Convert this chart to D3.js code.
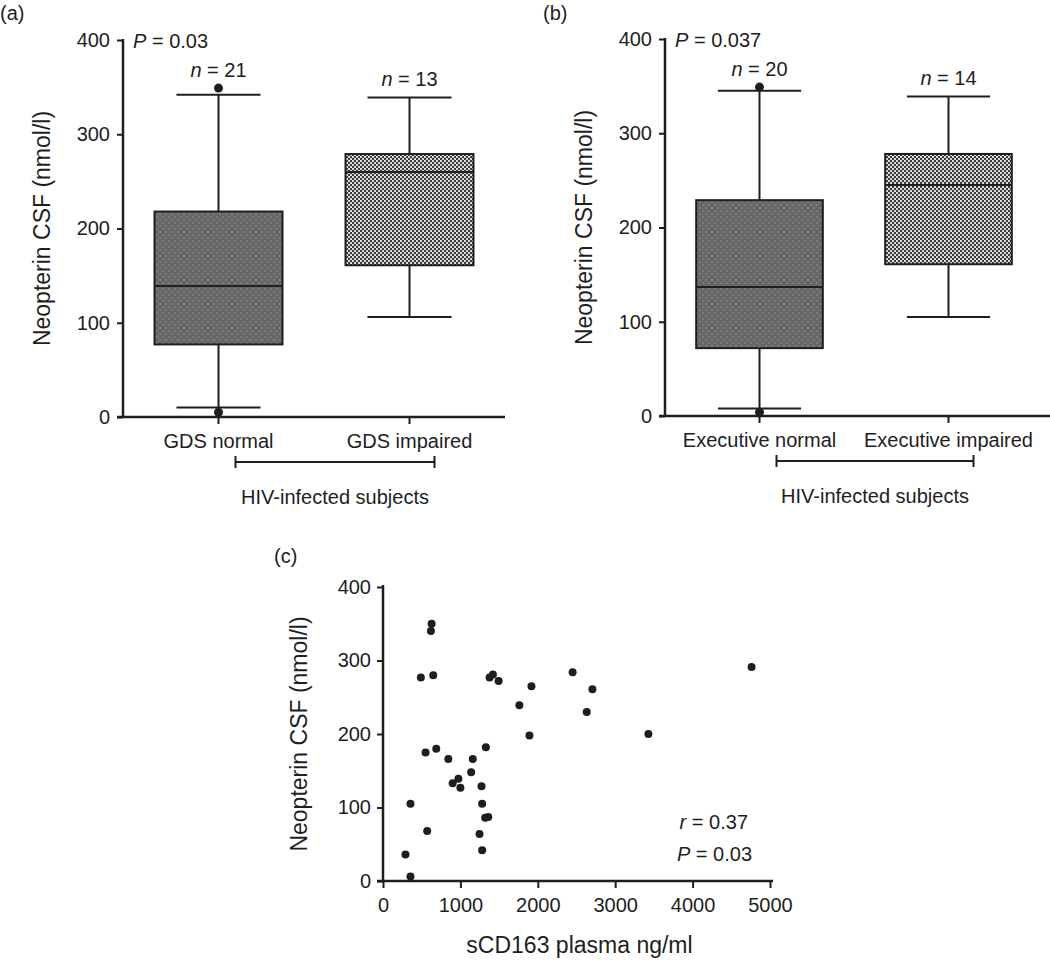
<!DOCTYPE html>
<html>
<head>
<meta charset="utf-8">
<script src="https://cdn.jsdelivr.net/npm/d3@7"></script>
<style>
  body { margin: 0; background: #fff; }
  svg { font-family: "Liberation Sans", Arial, sans-serif; }
</style>
</head>
<body>
<svg id="fig" width="1050" height="964"></svg>
<script>
// panel (a)
const groupsA = ["GDS normal", "GDS impaired"]
const statsA = [[10, 77, 139, 218, 342], [106, 161, 260, 279, 339]]   // lo, q1, med, q3, hi
const outliersA = [[349, 5], []]
const countsA = [21, 13]
const pA = "0.03"

// panel (b)
const groupsB = ["Executive normal", "Executive impaired"]
const statsB = [[8, 72, 137, 229, 345], [105, 161, 245, 278, 339]]
const outliersB = [[349, 4], []]
const countsB = [20, 14]
const pB = "0.037"

// panel (c) scatter: sCD163 plasma vs neopterin CSF
const sCD163 = [628, 619, 489, 649, 1377, 1420, 1494, 1918, 1762, 2450, 2706, 2632, 1892, 3429, 4762,
  550, 688, 1329, 844, 1160, 1139, 900, 974, 1000, 1273, 1281, 1320, 1360, 1247, 1281, 355, 571, 290, 355]
const neopterin = [350, 340, 277, 280, 277, 281, 272, 265, 239, 284, 261, 230, 198, 200, 291,
  175, 180, 182, 166, 166, 148, 133, 139, 127, 129, 105, 86, 87, 64, 42, 105, 68, 36, 6]
const rC = "0.37", pC = "0.03"

const yTicks = [0, 100, 200, 300, 400]
const xTicksC = [0, 1000, 2000, 3000, 4000, 5000]

const svg = d3.select("#fig")
const ink = "#1e1e1e"

// fill patterns for the boxes
const defs = svg.append("defs")
let p1 = defs.append("pattern").attr("id", "darkfill").attr("width", 6).attr("height", 6).attr("patternUnits", "userSpaceOnUse")
p1.append("rect").attr("width", 6).attr("height", 6).attr("fill", "#676767")
p1.append("rect").attr("x", 0).attr("y", 0).attr("width", 2).attr("height", 2).attr("fill", "#7a7a7a")
p1.append("rect").attr("x", 3).attr("y", 3).attr("width", 2).attr("height", 2).attr("fill", "#7a7a7a")

let p2 = defs.append("pattern").attr("id", "checkfill").attr("width", 4).attr("height", 4).attr("patternUnits", "userSpaceOnUse")
p2.append("rect").attr("width", 4).attr("height", 4).attr("fill", "#3a3a3a")
p2.append("circle").attr("cx", 1).attr("cy", 1).attr("r", 1.05).attr("fill", "#f4f4f4")
p2.append("circle").attr("cx", 3).attr("cy", 3).attr("r", 1.05).attr("fill", "#f4f4f4")

const fills = ["url(#darkfill)", "url(#checkfill)"]

function label(g, x, y, italic, rest, anchor) {
  let t = g.append("text").attr("x", x).attr("y", y).attr("font-size", 20).attr("fill", ink)
    .attr("text-anchor", anchor || "start")
  t.append("tspan").attr("font-style", "italic").text(italic)
  t.append("tspan").text(rest)
  return t
}

function style_axis(a) {
  a.select(".domain").remove()
  a.selectAll(".tick line").attr("stroke", ink).attr("stroke-width", 2)
  a.selectAll(".tick text").attr("font-size", 20).attr("fill", ink)
    .attr("font-family", "Liberation Sans, Arial, sans-serif")
}

function draw_box_panel(cfg) {
  let g = svg.append("g")
  let y = d3.scaleLinear().domain([0, 400]).range([cfg.bottom, cfg.top])
  let x = d3.scaleBand().domain(cfg.groups).range([cfg.left, cfg.left + cfg.bandW * 2])

  // y axis
  let ya = g.append("g").attr("transform", `translate(${cfg.left},0)`)
    .call(d3.axisLeft(y).tickValues(yTicks).tickSize(6).tickSizeOuter(0).tickPadding(7))
  style_axis(ya)
  g.append("line").attr("x1", cfg.left).attr("x2", cfg.left).attr("y1", cfg.top - 1).attr("y2", cfg.bottom + 1)
    .attr("stroke", ink).attr("stroke-width", 2.5)

  // x axis
  let xa = g.append("g").attr("transform", `translate(0,${cfg.bottom})`)
    .call(d3.axisBottom(x).tickSize(7).tickSizeOuter(0).tickPadding(10))
  style_axis(xa)
  g.append("line").attr("x1", cfg.left - 6).attr("x2", cfg.right).attr("y1", cfg.bottom).attr("y2", cfg.bottom)
    .attr("stroke", ink).attr("stroke-width", 2.5)

  let boxW = x.bandwidth() * 0.67
  let capW = x.bandwidth() * 0.22
  cfg.groups.forEach((grp, i) => {
    let [lo, q1, med, q3, hi] = cfg.stats[i]
    let cx = x(grp) + x.bandwidth() / 2
    let w = g.append("g").attr("stroke", ink).attr("stroke-width", 2)
    w.append("line").attr("x1", cx).attr("x2", cx).attr("y1", y(hi)).attr("y2", y(lo))
    w.append("line").attr("x1", cx - capW).attr("x2", cx + capW).attr("y1", y(hi)).attr("y2", y(hi))
    w.append("line").attr("x1", cx - capW).attr("x2", cx + capW).attr("y1", y(lo)).attr("y2", y(lo))
    w.append("rect").attr("x", cx - boxW / 2).attr("width", boxW)
      .attr("y", y(q3)).attr("height", y(q1) - y(q3)).attr("fill", fills[i])
    w.append("line").attr("x1", cx - boxW / 2).attr("x2", cx + boxW / 2).attr("y1", y(med)).attr("y2", y(med))
    cfg.outliers[i].forEach(v => {
      g.append("circle").attr("cx", cx).attr("cy", y(v)).attr("r", 4.5).attr("fill", ink)
    })
    let top = d3.max([hi].concat(cfg.outliers[i]))
    label(g, cx, y(top) - 11, "n", ` = ${cfg.counts[i]}`, "middle")
  })

  label(g, cfg.left + 10, cfg.top + 8, "P", ` = ${cfg.p}`)

  // group bracket
  let bx1 = x(cfg.groups[0]) + x.bandwidth() / 2 + 17
  let bx2 = x(cfg.groups[1]) + x.bandwidth() / 2 + 25
  let by = cfg.bottom + 45
  let br = g.append("g").attr("stroke", ink).attr("stroke-width", 2)
  br.append("line").attr("x1", bx1).attr("x2", bx2).attr("y1", by).attr("y2", by)
  br.append("line").attr("x1", bx1).attr("x2", bx1).attr("y1", by - 6).attr("y2", by + 6)
  br.append("line").attr("x1", bx2).attr("x2", bx2).attr("y1", by - 6).attr("y2", by + 6)
  g.append("text").attr("x", (bx1 + bx2) / 2).attr("y", cfg.bottom + 87).attr("text-anchor", "middle")
    .attr("font-size", 20).attr("fill", ink).text("HIV-infected subjects")

  // y title
  g.append("text").attr("transform", `translate(${cfg.left - 73},${(cfg.top + cfg.bottom) / 2}) rotate(-90)`)
    .attr("text-anchor", "middle").attr("font-size", 23).attr("fill", ink).text("Neopterin CSF (nmol/l)")

  g.append("text").attr("x", cfg.tagX).attr("y", 20).attr("font-size", 20).attr("fill", ink).text(cfg.tag)
}

function draw_scatter() {
  let g = svg.append("g")
  let left = 383, right = 770, top = 587, bottom = 881
  let x = d3.scaleLinear().domain([0, 5000]).range([left, right])
  let y = d3.scaleLinear().domain([0, 400]).range([bottom, top])

  let ya = g.append("g").attr("transform", `translate(${left},0)`)
    .call(d3.axisLeft(y).tickValues(yTicks).tickSize(6).tickSizeOuter(0).tickPadding(6))
  style_axis(ya)
  g.append("line").attr("x1", left).attr("x2", left).attr("y1", top - 2).attr("y2", bottom + 1)
    .attr("stroke", ink).attr("stroke-width", 2.5)

  let xa = g.append("g").attr("transform", `translate(0,${bottom})`)
    .call(d3.axisBottom(x).tickValues(xTicksC).tickFormat(d3.format("d"))
      .tickSize(7).tickSizeOuter(0).tickPadding(10))
  style_axis(xa)
  g.append("line").attr("x1", left - 6).attr("x2", right + 3).attr("y1", bottom).attr("y2", bottom)
    .attr("stroke", ink).attr("stroke-width", 2.5)

  g.selectAll("circle.pt").data(sCD163.map((v, i) => [v, neopterin[i]])).enter()
    .append("circle").attr("class", "pt")
    .attr("cx", d => x(d[0])).attr("cy", d => y(d[1])).attr("r", 4).attr("fill", ink)

  label(g, 748, 829, "r", ` = ${rC}`, "end")
  label(g, 752, 861, "P", ` = ${pC}`, "end")

  g.append("text").attr("transform", `translate(${left - 76},${(top + bottom) / 2}) rotate(-90)`)
    .attr("text-anchor", "middle").attr("font-size", 23).attr("fill", ink).text("Neopterin CSF (nmol/l)")
  g.append("text").attr("x", (left + right) / 2 + 3).attr("y", bottom + 72).attr("text-anchor", "middle")
    .attr("font-size", 23).attr("fill", ink).text("sCD163 plasma ng/ml")
  g.append("text").attr("x", 274).attr("y", 563).attr("font-size", 20).attr("fill", ink).text("(c)")
}

draw_box_panel({groups: groupsA, stats: statsA, outliers: outliersA, counts: countsA, p: pA,
  left: 123, right: 505, top: 40, bottom: 417, bandW: 191, tag: "(a)", tagX: 0})
draw_box_panel({groups: groupsB, stats: statsB, outliers: outliersB, counts: countsB, p: pB,
  left: 665, right: 1050, top: 39, bottom: 416, bandW: 189, tag: "(b)", tagX: 543})
draw_scatter()
</script>
</body>
</html>
